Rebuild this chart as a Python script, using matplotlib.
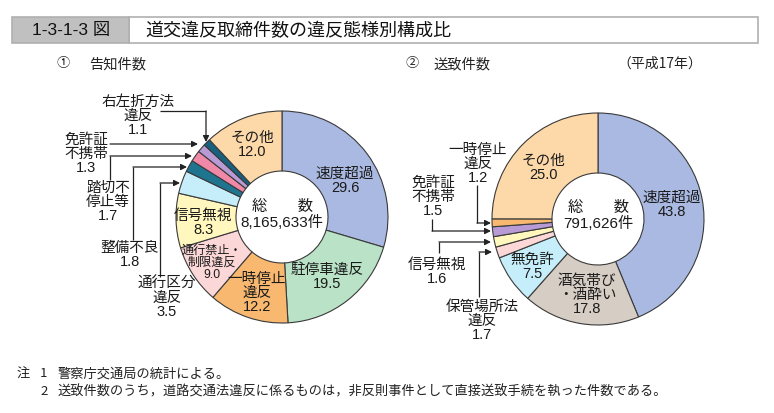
import matplotlib
matplotlib.use("Agg")
import matplotlib.pyplot as plt
from matplotlib.patches import Rectangle

plt.rcParams['font.family'] = ['Noto Sans CJK JP', 'DejaVu Sans']
LAB_FONT = ['Liberation Sans', 'Noto Sans CJK JP']

# ---------------- data ----------------
left_labels = ['速度超過', '駐停車違反', '一時停止違反', '通行禁止・制限違反', '信号無視',
               '通行区分違反', '整備不良', '踏切不停止等', '免許証不携帯', '右左折方法違反', 'その他']
left_values = [29.6, 19.5, 12.2, 9.0, 8.3, 3.5, 1.8, 1.7, 1.3, 1.1, 12.0]
left_colors = ['#a9b9e2', '#b9e2c6', '#f8b870', '#fbd7d7', '#fff7bd', '#c6eefa',
               '#1f7590', '#f088a8', '#b89ad4', '#17607e', '#fdd9a9']
left_total = '8,165,633件'

right_labels = ['速度超過', '酒気帯び・酒酔い', '無免許', '保管場所法違反', '信号無視',
                '免許証不携帯', '一時停止違反', 'その他']
right_values = [43.8, 17.8, 7.5, 1.7, 1.6, 1.5, 1.2, 25.0]
right_colors = ['#a9b9e2', '#d6cdc5', '#c6eefa', '#fbd7d7', '#fff7bd',
                '#b89ad4', '#f8b870', '#fdd9a9']
right_total = '791,626件'

W, H = 774, 414
fig = plt.figure(figsize=(W / 100, H / 100), dpi=100)
ax = fig.add_axes([0, 0, 1, 1])


def Y(y):
    return H - y


def setlim():
    ax.set_xlim(0, W)
    ax.set_ylim(0, H)
    ax.axis('off')


setlim()

# ---------------- header ----------------
ax.add_patch(Rectangle((129, Y(44)), 758 - 129, 26, facecolor='white', edgecolor='#b0b0b0', lw=1.2))
ax.add_patch(Rectangle((12, Y(44)), 117, 26, facecolor='#c0c0c0', edgecolor='#b0b0b0', lw=1.2))
ax.text(71, Y(31), '1-3-1-3 図', fontsize=12.5, ha='center', va='center', color='#111',
        family=['Liberation Sans', 'Noto Sans CJK JP'])
ax.text(145, Y(31), '道交違反取締件数の違反態様別構成比', fontsize=13, ha='left', va='center', color='#111')

ax.text(63, Y(64), '①', fontsize=9.5, ha='center', va='center', color='#222')
ax.text(89, Y(64), '告知件数', fontsize=10.3, ha='left', va='center', color='#222')
ax.text(412, Y(64), '②', fontsize=9.5, ha='center', va='center', color='#222')
ax.text(433, Y(64), '送致件数', fontsize=10.3, ha='left', va='center', color='#222')
ax.text(660, Y(64), '（平成17年）', fontsize=10, ha='center', va='center', color='#222')

# ---------------- pies ----------------
R, r_in = 106, 46
for vals, cols, cx, cy in [(left_values, left_colors, 282, 218),
                           (right_values, right_colors, 598, 220)]:
    ax.pie(vals, colors=cols, startangle=90, counterclock=False, radius=R,
           center=(cx, Y(cy)), frame=True,
           wedgeprops=dict(width=R - r_in, edgecolor='#3a3a3a', linewidth=0.8))
setlim()

fs = 10.5
ls = 1.0
tc = '#1a1a1a'


def lab(x, y, s, size=fs):
    ax.text(x, Y(y), s, fontsize=size, ha='center', va='center', color=tc,
            linespacing=ls, family=LAB_FONT)


# left inner labels
lab(252, 145, 'その他\n' + f'{left_values[10]:.1f}')
lab(345, 181, '速度超過\n' + f'{left_values[0]:.1f}')
lab(282, 215, '総　　数\n' + left_total, size=11)
lab(203, 223, '信号無視\n' + f'{left_values[4]:.1f}')
lab(212, 263, '通行禁止・\n制限違反\n' + f'{left_values[3]:.1f}', size=8.7)
lab(257, 293, '一時停止\n違反\n' + f'{left_values[2]:.1f}')
lab(327, 277, '駐停車違反\n' + f'{left_values[1]:.1f}')

# left outside labels
lab(138, 116, '右左折方法\n違反\n' + f'{left_values[9]:.1f}')
lab(86, 154, '免許証\n不携帯\n' + f'{left_values[8]:.1f}')
lab(108, 202, '踏切不\n停止等\n' + f'{left_values[7]:.1f}')
lab(130, 255, '整備不良\n' + f'{left_values[6]:.1f}')
lab(167, 298, '通行区分\n違反\n' + f'{left_values[5]:.1f}')

# right inner labels
lab(543, 168, 'その他\n' + f'{right_values[7]:.1f}')
lab(672, 205, '速度超過\n' + f'{right_values[0]:.1f}')
lab(598, 216, '総　　数\n' + right_total, size=11)
lab(532, 267, '無免許\n' + f'{right_values[2]:.1f}')
lab(587, 295, '酒気帯び\n・酒酔い\n' + f'{right_values[1]:.1f}')

# right outside labels
lab(478, 164, '一時停止\n違反\n' + f'{right_values[6]:.1f}')
lab(433, 197, '免許証\n不携帯\n' + f'{right_values[5]:.1f}')
lab(437, 272, '信号無視\n' + f'{right_values[4]:.1f}')
lab(482, 321, '保管場所法\n違反\n' + f'{right_values[3]:.1f}')


def leader(pts):
    xs = [p[0] for p in pts]
    ys = [Y(p[1]) for p in pts]
    ax.plot(xs[:-1], ys[:-1], color='#222', lw=0.9, solid_capstyle='butt')
    ax.annotate('', xy=(xs[-1], ys[-1]), xytext=(xs[-2], ys[-2]),
                arrowprops=dict(arrowstyle='-|>', color='#222', lw=0.9,
                                shrinkA=0, shrinkB=0, mutation_scale=9))


leader([(160, 112), (206, 112), (206, 143)])
leader([(110, 145), (198, 145)])
leader([(110, 181), (110, 157), (192, 157)])
leader([(133, 241), (133, 168), (187, 168)])
leader([(160, 278), (160, 184), (180, 184)])

leader([(477, 186), (477, 224), (491, 224)])
leader([(432, 220), (432, 232), (491, 232)])
leader([(439, 254), (439, 243), (491, 243)])
leader([(479, 298), (479, 253), (492, 253)])

# ---------------- notes ----------------
nfs = 9.5
ax.text(17, Y(374), '注', fontsize=nfs, ha='left', va='center', color='#222')
ax.text(40, Y(374), '1', fontsize=nfs, ha='left', va='center', color='#222')
ax.text(58, Y(374), '警察庁交通局の統計による。', fontsize=nfs, ha='left', va='center', color='#222')
ax.text(40, Y(392), '2', fontsize=nfs, ha='left', va='center', color='#222')
ax.text(58, Y(392), '送致件数のうち，道路交通法違反に係るものは，非反則事件として直接送致手続を執った件数である。',
        fontsize=nfs, ha='left', va='center', color='#222')

fig.savefig('out.png', dpi=100)
